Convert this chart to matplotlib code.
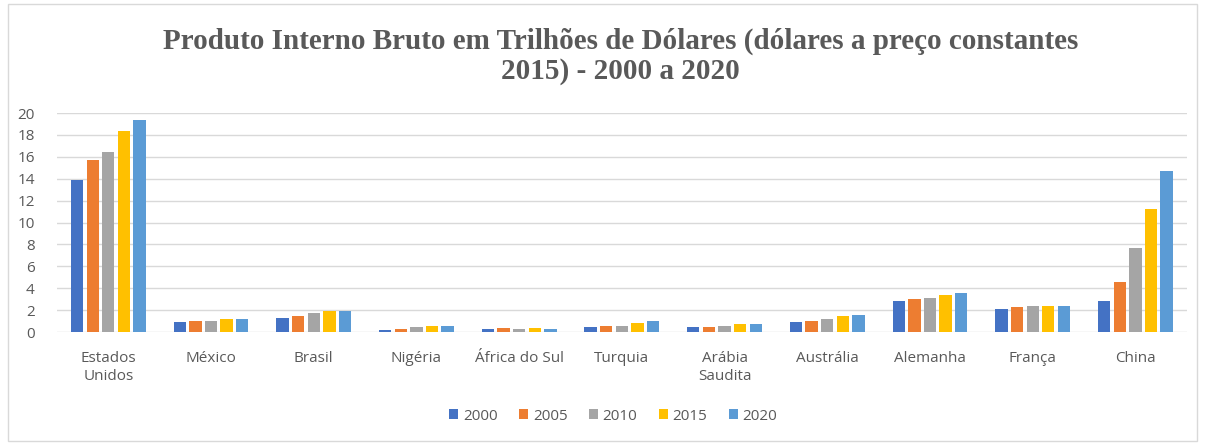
#!/usr/bin/env python3

import numpy as np
import matplotlib.pyplot as plt
from matplotlib.patches import Rectangle

# Countries (x categories)
paises = ['Estados\nUnidos', 'México', 'Brasil', 'Nigéria', 'África do Sul',
          'Turquia', 'Arábia\nSaudita', 'Austrália', 'Alemanha', 'França', 'China']

anos = ['2000', '2005', '2010', '2015', '2020']

# GDP in trillions of constant 2015 dollars, one list per year
pib_2000 = [13.85, 0.88, 1.28, 0.18, 0.30, 0.42, 0.42, 0.88, 2.87, 2.14, 2.87]
pib_2005 = [15.70, 1.04, 1.43, 0.28, 0.32, 0.58, 0.42, 1.04, 2.99, 2.29, 4.55]
pib_2010 = [16.40, 1.04, 1.74, 0.42, 0.31, 0.58, 0.58, 1.16, 3.15, 2.41, 7.67]
pib_2015 = [18.40, 1.16, 1.89, 0.58, 0.40, 0.85, 0.73, 1.43, 3.42, 2.41, 11.19]
pib_2020 = [19.40, 1.16, 1.89, 0.58, 0.30, 1.01, 0.73, 1.59, 3.58, 2.41, 14.71]

series = [pib_2000, pib_2005, pib_2010, pib_2015, pib_2020]
cores = ['#4472c4', '#ed7d31', '#a5a5a5', '#ffc000', '#5b9bd5']

BAR_WIDTH = 0.12
STEP = 0.152
TXT = '#595959'

fig = plt.figure(figsize=(12.07, 4.46), dpi=100)
ax = fig.add_axes([0.0472, 0.2556, 0.936, 0.491])

# light border around the chart area
fig.patches.append(Rectangle((0.007, 0.012), 0.985, 0.978, transform=fig.transFigure,
                             fill=False, edgecolor='#d9d9d9', linewidth=1))

x = np.arange(len(paises))
for i, (vals, cor, ano) in enumerate(zip(series, cores, anos)):
    ax.bar(x + (i - 2) * STEP, vals, BAR_WIDTH, color=cor, label=ano, zorder=3)

ax.set_xlim(-0.5, len(paises) - 0.5)
ax.set_ylim(0, 20)
ax.set_yticks(np.arange(0, 21, 2))
ax.set_xticks(x)
ax.set_xticklabels(paises)
ax.grid(axis='y', color='#d9d9d9', linewidth=1, zorder=0)
for s in ax.spines.values():
    s.set_visible(False)
ax.tick_params(length=0, labelsize=11, labelcolor=TXT)
ax.tick_params(axis='x', pad=14)
ax.tick_params(axis='y', pad=16)
for lbl in ax.get_xticklabels() + ax.get_yticklabels():
    lbl.set_family('Open Sans')

fig.text(0.514, 0.874,
         'Produto Interno Bruto em Trilhões de Dólares (dólares a preço constantes\n2015) - 2000 a 2020',
         ha='center', va='center', fontsize=21, fontweight='bold', color=TXT,
         family='Liberation Serif', linespacing=1.15)

leg = fig.legend(loc='center', bbox_to_anchor=(0.508, 0.067), ncol=5, frameon=False,
                 handlelength=0.6, handleheight=0.6, handletextpad=0.3, columnspacing=1.4,
                 prop={'family': 'Open Sans', 'size': 11})
for t in leg.get_texts():
    t.set_color(TXT)

fig.savefig('out.png', dpi=100)
